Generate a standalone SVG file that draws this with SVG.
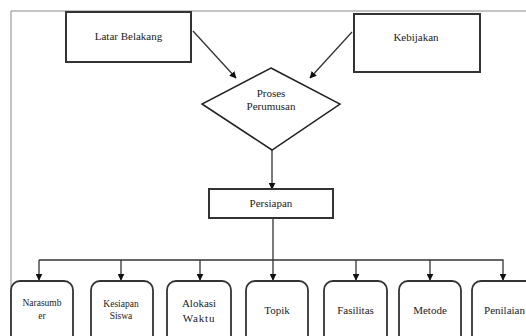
<svg xmlns="http://www.w3.org/2000/svg" width="526" height="336" viewBox="0 0 526 336">
<defs>
<marker id="ah" viewBox="0 0 10 10" refX="9" refY="5" markerWidth="7" markerHeight="7" markerUnits="userSpaceOnUse" orient="auto">
<path d="M0,0 L10,5 L0,10 z" fill="#111"/>
</marker>
<style>
.frame{fill:none;stroke:#888;stroke-width:1}
.box{fill:#fff;stroke:#333;stroke-width:2}
.rbox{fill:#fff;stroke:#333;stroke-width:1.8}
.con{fill:none;stroke:#333;stroke-width:1.3}
text{font-family:'Liberation Serif','DejaVu Serif',serif;font-size:11px;fill:#222;text-anchor:middle}
.s{font-size:9.5px}
</style>
</defs>
<rect width="526" height="336" fill="#fff"/>
<path class="frame" d="M11,336 V11 H526"/>
<g id="connectors">
<path class="con" d="M193,31 L236,78" marker-end="url(#ah)"/>
<path class="con" d="M352,32 L310,78" marker-end="url(#ah)"/>
<path class="con" d="M272,150 V189" marker-end="url(#ah)"/>
<path class="con" d="M273,218 V280" marker-end="url(#ah)"/>
<path class="con" d="M39,260 H503 V280" marker-end="url(#ah)"/>
<path class="con" d="M39,260 V280" marker-end="url(#ah)"/>
<path class="con" d="M121,260 V280" marker-end="url(#ah)"/>
<path class="con" d="M200,260 V280" marker-end="url(#ah)"/>
<path class="con" d="M356,260 V280" marker-end="url(#ah)"/>
<path class="con" d="M430,260 V280" marker-end="url(#ah)"/>
</g>
<g id="latar-belakang">
<rect class="box" x="66" y="12" width="125" height="50"/>
<text x="128.5" y="40">Latar Belakang</text>
</g>
<g id="kebijakan">
<rect class="box" x="354" y="14" width="126" height="58"/>
<text x="416" y="41">Kebijakan</text>
</g>
<g id="proses-perumusan">
<polygon points="271,68 340,104 272,150 202,104" fill="#fff" stroke="#222" stroke-width="1.5"/>
<text x="271" y="97">Proses</text>
<text x="271" y="110">Perumusan</text>
</g>
<g id="persiapan">
<rect class="box" x="209" y="189" width="124" height="29"/>
<text x="271" y="207">Persiapan</text>
</g>
<g id="narasumber">
<rect class="rbox" x="11" y="281" width="62" height="70" rx="9"/>
<text class="s" x="42" y="306">Narasumb</text>
<text class="s" x="42" y="319">er</text>
</g>
<g id="kesiapan-siswa">
<rect class="rbox" x="91" y="281" width="62" height="70" rx="9"/>
<text class="s" x="121" y="307">Kesiapan</text>
<text class="s" x="121" y="319">Siswa</text>
</g>
<g id="alokasi-waktu">
<rect class="rbox" x="167" y="281" width="64" height="70" rx="9"/>
<text x="199" y="307">Alokasi</text>
<text x="199" y="322" letter-spacing="0.8">Waktu</text>
</g>
<g id="topik">
<rect class="rbox" x="246" y="281" width="62" height="70" rx="9"/>
<text x="277" y="314">Topik</text>
</g>
<g id="fasilitas">
<rect class="rbox" x="324" y="281" width="63" height="70" rx="9"/>
<text x="355.5" y="314">Fasilitas</text>
</g>
<g id="metode">
<rect class="rbox" x="399" y="281" width="62" height="70" rx="9"/>
<text x="430" y="314">Metode</text>
</g>
<g id="penilaian">
<rect class="rbox" x="472" y="281" width="65" height="70" rx="9"/>
<text x="504.5" y="314">Penilaian</text>
</g>
</svg>
